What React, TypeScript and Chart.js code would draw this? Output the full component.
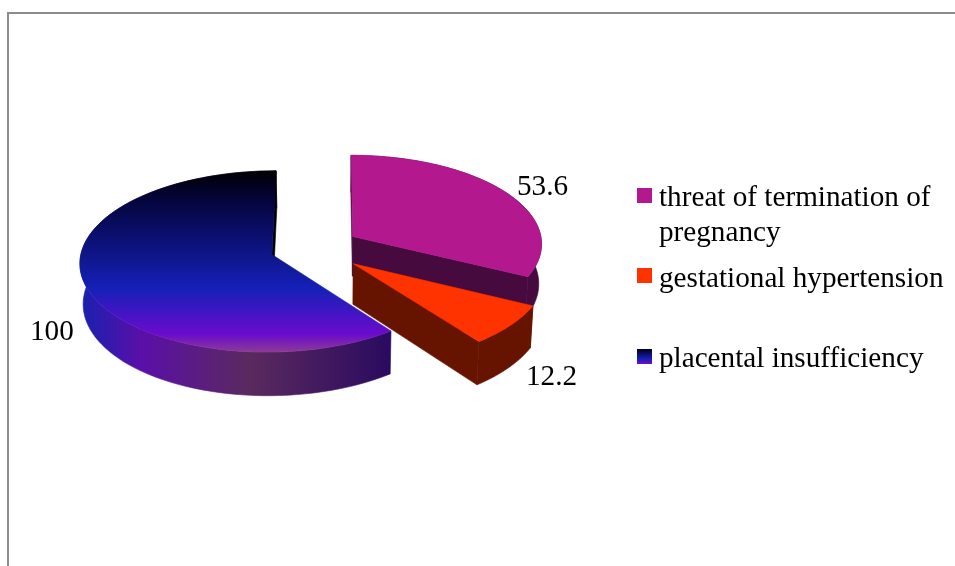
import React, { useEffect, useRef } from "react";
import { Chart, registerables } from "chart.js";

Chart.register(...registerables);

const categories = ["threat of termination of pregnancy", "gestational hypertension", "placental insufficiency"];
const values = [53.6, 12.2, 100];
const valueLabels = ["53.6", "12.2", "100"];
const legendLines = [["threat of termination of", "pregnancy"], ["gestational hypertension"], ["placental insufficiency"]];
const sliceColors = ["#b4188f", "#ff3300", "#1520b8"];
const sideColors = ["#470a3f", "#661400", "#2c0a5c"];
const sliceOffsets = [47, 52, 43];

const FONT = '29.2px "Liberation Serif"';
const TILT = 0.469;
const PERSP = 0.077;
const VANISH_X = 330;
const DEPTH = 40;
const LABEL_POS = [[517, 195], [526, 385], [30, 340]];
const LEGEND = [
  { box: 188, lines: [206, 241] },
  { box: 268, lines: [287] },
  { box: 349, lines: [367] },
];

function blueTop(ctx: CanvasRenderingContext2D, y0: number, y1: number) {
  const g = ctx.createLinearGradient(0, y0, 0, y1);
  g.addColorStop(0, "#000000");
  g.addColorStop(0.16, "#04043c");
  g.addColorStop(0.65, "#1520b8");
  g.addColorStop(0.9, "#6a0bcc");
  g.addColorStop(1, "#8c3a98");
  return g;
}

function blueSide(ctx: CanvasRenderingContext2D) {
  const g = ctx.createLinearGradient(83, 0, 391, 0);
  g.addColorStop(0, "#1a20b0");
  g.addColorStop(0.19, "#5a0fa8");
  g.addColorStop(0.54, "#5a2a5e");
  g.addColorStop(1, "#2a0a60");
  return g;
}

const pie3d = {
  id: "pie3d",
  beforeDatasetsDraw(chart: any) {
    const ctx: CanvasRenderingContext2D = chart.ctx;
    const arcs = chart.getDatasetMeta(0).data;
    const first = arcs[0];
    const cy = first.y;
    const R = first.outerRadius;
    const proj = (x: number, y: number, h: number) => {
      const k = 1 / (1 - (PERSP * (y - cy)) / R);
      const shrink = h > 0 ? 0.987 : 1;
      return [VANISH_X + (x - VANISH_X) * k * shrink, cy + (y - cy) * TILT * k + h * k];
    };
    const poly = (pts: number[][], fill: any) => {
      ctx.beginPath();
      pts.forEach((p, i) => (i ? ctx.lineTo(p[0], p[1]) : ctx.moveTo(p[0], p[1])));
      ctx.closePath();
      ctx.fillStyle = fill;
      ctx.fill();
      ctx.strokeStyle = fill;
      ctx.lineWidth = 0.6;
      ctx.stroke();
    };
    ctx.save();
    arcs.forEach((arc: any, i: number) => {
      const off = sliceOffsets[i];
      const mid = (arc.startAngle + arc.endAngle) / 2;
      const ax = arc.x + Math.cos(mid) * off;
      const ay = arc.y + Math.sin(mid) * off;
      const rim: number[][] = [];
      const n = 90;
      for (let s = 0; s <= n; s++) {
        const t = arc.startAngle + ((arc.endAngle - arc.startAngle) * s) / n;
        rim.push([ax + Math.cos(t) * arc.outerRadius, ay + Math.sin(t) * arc.outerRadius]);
      }
      const topRim = rim.map((p) => proj(p[0], p[1], 0));
      const botRim = rim.map((p) => proj(p[0], p[1], DEPTH));
      const a0 = proj(ax, ay, 0);
      const a1 = proj(ax, ay, DEPTH);
      const side = i === 2 ? blueSide(ctx) : sideColors[i];
      poly([...topRim, ...botRim.slice().reverse()], side);
      if (i !== 2) {
        poly([a0, topRim[n], botRim[n], a1], side);
        poly([a0, topRim[0], botRim[0], a1], side);
      } else {
        poly([a0, topRim[n], botRim[n], a1], "#000000");
      }
      const ys = topRim.map((p) => p[1]);
      const top = i === 2 ? blueTop(ctx, Math.min(...ys), Math.max(...ys)) : sliceColors[i];
      poly([a0, ...topRim], top);
    });

    ctx.fillStyle = "#000000";
    ctx.font = FONT;
    ctx.textBaseline = "alphabetic";
    ctx.textAlign = "left";
    valueLabels.forEach((t, i) => ctx.fillText(t, LABEL_POS[i][0], LABEL_POS[i][1]));

    categories.forEach((_, i) => {
      const spec = LEGEND[i];
      let fill: any = sliceColors[i];
      if (i === 2) fill = blueTop(ctx, spec.box - 1, spec.box + 16);
      ctx.fillStyle = fill;
      ctx.fillRect(637, spec.box, 15, 15);
      ctx.fillStyle = "#000000";
      legendLines[i].forEach((line, j) => ctx.fillText(line, 659, spec.lines[j]));
    });
    ctx.restore();
    return false;
  },
};

export default function App() {
  const ref = useRef<HTMLCanvasElement>(null);
  useEffect(() => {
    const chart = new Chart(ref.current as HTMLCanvasElement, {
      type: "pie",
      data: {
        labels: categories,
        datasets: [{ data: values, backgroundColor: sliceColors, offset: sliceOffsets, borderWidth: 0 }],
      },
      options: {
        animation: false,
        responsive: false,
        radius: 190,
        layout: { padding: { left: 0, right: 329, top: 0, bottom: 70 } },
        plugins: { legend: { display: false }, tooltip: { enabled: false } },
      },
      plugins: [pie3d],
    } as any);
    return () => chart.destroy();
  }, []);
  return (
    <div style={{ position: "fixed", inset: 0, overflow: "hidden", background: "#fff" }}>
      <canvas ref={ref} width={955} height={566} style={{ position: "absolute", left: 0, top: 0 }} />
      <div
        style={{
          position: "absolute",
          left: 7,
          top: 12,
          width: 2000,
          height: 2000,
          borderLeft: "2px solid #8c8c8c",
          borderTop: "2px solid #8c8c8c",
        }}
      />
    </div>
  );
}
